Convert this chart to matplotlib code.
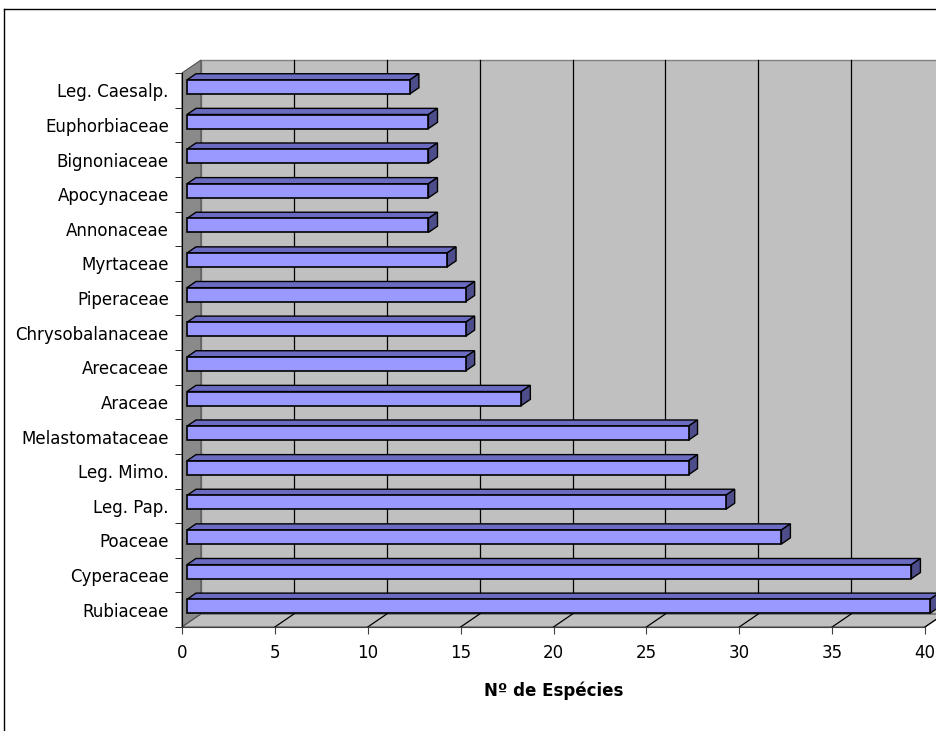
import matplotlib.pyplot as plt
from matplotlib.patches import Polygon
from matplotlib.lines import Line2D

familias = ["Rubiaceae", "Cyperaceae", "Poaceae", "Leg. Pap.", "Leg. Mimo.",
            "Melastomataceae", "Araceae", "Arecaceae", "Chrysobalanaceae",
            "Piperaceae", "Myrtaceae", "Annonaceae", "Apocynaceae",
            "Bignoniaceae", "Euphorbiaceae", "Leg. Caesalp."]
especies = [40, 39, 32, 29, 27, 27, 18, 15, 15, 15, 14, 13, 13, 13, 13, 12]
xticks = [0, 5, 10, 15, 20, 25, 30, 35, 40]

W, H = 936, 731
fig = plt.figure(figsize=(W / 100, H / 100), dpi=100)
fig.patch.set_facecolor("white")

# front plane of the 3D box
ax = fig.add_axes([182 / W, (H - 627) / H, 743 / W, 554 / H])
n = len(familias)
ax.set_xlim(0, 40)
ax.set_ylim(-0.5, n - 0.5)
ax.patch.set_visible(False)

sx = ax.bbox.width / 40.0
sy = ax.bbox.height / float(n)

# depth of the box in pixels (right, up)
DX, DY = 19.0, 13.0


def pt(x, y, dpx):
    # point on the front plane pushed back by dpx pixels of depth
    return (x + dpx / sx, y + dpx * (DY / DX) / sy)


def poly(pts, fc, ec, lw=1.0, z=1):
    ax.add_patch(Polygon(pts, closed=True, facecolor=fc, edgecolor=ec,
                         linewidth=lw, zorder=z, clip_on=False))


y0, y1 = -0.5, n - 0.5
# back wall
poly([pt(0, y0, DX), pt(40, y0, DX), pt(40, y1, DX), pt(0, y1, DX)],
     "#c0c0c0", "#808080", 1.0, 1)
# left wall
poly([(0, y0), pt(0, y0, DX), pt(0, y1, DX), (0, y1)], "#8a8a8a", "#505050", 0.8, 2)
# floor
poly([(0, y0), (40, y0), pt(40, y0, DX), pt(0, y0, DX)], "#c0c0c0", "#505050", 0.8, 2)

# grid on the back wall and on the floor
for xv in xticks[1:]:
    a = pt(xv, y0, DX)
    b = pt(xv, y1, DX)
    ax.add_line(Line2D([a[0], b[0]], [a[1], b[1]], color="black", lw=0.9,
                       zorder=1.5, clip_on=False))
    ax.add_line(Line2D([xv, a[0]], [y0, a[1]], color="black", lw=0.9,
                       zorder=2.5, clip_on=False))

# bars: front, top and side faces
d1, d2 = 5.0, 14.0
half = 7.0 / sy
for i, v in enumerate(especies):
    bl = pt(0, i - half, d1)
    br = pt(v, i - half, d1)
    tl = pt(0, i + half, d1)
    tr = pt(v, i + half, d1)
    tl2 = pt(0, i + half, d2)
    tr2 = pt(v, i + half, d2)
    br2 = pt(v, i - half, d2)
    poly([tl, tr, tr2, tl2], "#6b6bc2", "black", 1.0, 3)
    poly([br, tr, tr2, br2], "#4d4d8c", "black", 1.0, 3)
    poly([bl, br, tr, tl], "#9999ff", "black", 1.2, 4)

ax.spines["top"].set_visible(False)
ax.spines["right"].set_visible(False)
ax.spines["left"].set_color("black")
ax.spines["bottom"].set_color("#404040")
ax.spines["left"].set_zorder(5)
ax.spines["bottom"].set_zorder(5)

ax.set_xticks(xticks)
ax.set_xticklabels([str(t) for t in xticks])
ax.set_yticks(range(n))
ax.set_yticklabels(familias)
ax.set_yticks([k - 0.5 for k in range(n + 1)], minor=True)
ax.tick_params(axis="y", which="major", length=0, pad=9.5, labelsize=12)
ax.tick_params(axis="y", which="minor", length=5, direction="out", color="black")
ax.tick_params(axis="x", length=5, direction="out", color="#404040", pad=7.5, labelsize=12)
ax.set_xlabel("Nº de Espécies", fontsize=12, fontweight="bold", labelpad=14)

# chart frame
fig.add_artist(Line2D([3.5 / W, 3.5 / W], [0, 1 - 8.5 / H], color="black", lw=1.0))
fig.add_artist(Line2D([3.5 / W, 1], [1 - 8.5 / H, 1 - 8.5 / H], color="black", lw=1.0))

fig.savefig("out.png", dpi=100)
